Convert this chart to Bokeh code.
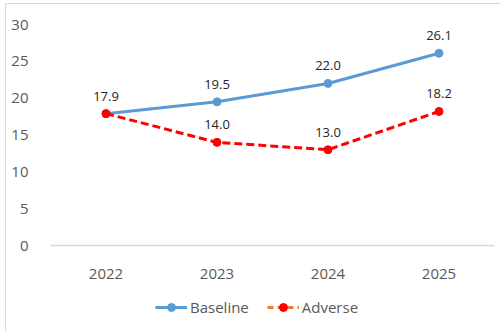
from bokeh.plotting import figure
from bokeh.layouts import column
from bokeh.models import ColumnDataSource, Legend, LegendItem, FixedTicker, LabelSet, Range1d
from bokeh.core.properties import value
from bokeh.embed import file_html
from bokeh.resources import INLINE

years = ["2022", "2023", "2024", "2025"]
baseline = [17.9, 19.5, 22.0, 26.1]
adverse = [17.9, 14.0, 13.0, 18.2]
y_ticks = [0, 5, 10, 15, 20, 25, 30]
series_names = ["Baseline", "Adverse"]

FONT = "Open Sans"
BLUE = "#5B9BD5"
RED = "#FF0000"
ORANGE = "#ED7D31"

fig = figure(x_range=years, y_range=Range1d(0, 30), width=494, height=290,
             output_backend="svg", toolbar_location=None,
             min_border_left=44, min_border_right=6, min_border_top=20, min_border_bottom=49)
fig.outline_line_color = None
fig.grid.visible = False

src_b = ColumnDataSource(dict(x=years, y=baseline, lab=[f"{v:.1f}" for v in baseline]))
src_a = ColumnDataSource(dict(x=years, y=adverse, lab=[f"{v:.1f}" for v in adverse]))

fig.line("x", "y", source=src_b, line_color=BLUE, line_width=3)
fig.scatter("x", "y", source=src_b, size=8, color=BLUE)
fig.line("x", "y", source=src_a, line_color=RED, line_width=3, line_dash="8 4")
fig.scatter("x", "y", source=src_a, size=8, color=RED)

lb = LabelSet(x="x", y="y", text="lab", source=src_b, y_offset=13, text_align="center",
              text_font=value(FONT), text_font_size="13px", text_color="#262626")
src_a2 = ColumnDataSource(dict(x=years[1:], y=adverse[1:], lab=[f"{v:.1f}" for v in adverse[1:]]))
la = LabelSet(x="x", y="y", text="lab", source=src_a2, y_offset=13, text_align="center",
              text_font=value(FONT), text_font_size="13px", text_color="#262626")
fig.add_layout(lb)
fig.add_layout(la)

fig.yaxis.ticker = FixedTicker(ticks=y_ticks)
fig.yaxis.axis_line_color = None
fig.yaxis.major_tick_line_color = None
fig.yaxis.minor_tick_line_color = None
fig.yaxis.major_label_text_font = FONT
fig.yaxis.major_label_text_font_size = "15px"
fig.yaxis.major_label_text_color = "#595959"
fig.yaxis.major_label_standoff = 16

fig.xaxis.axis_line_color = "#D9D9D9"
fig.xaxis.axis_line_width = 1.5
fig.xaxis.major_tick_line_color = None
fig.xaxis.minor_tick_line_color = None
fig.xaxis.major_label_text_font = FONT
fig.xaxis.major_label_text_font_size = "15px"
fig.xaxis.major_label_text_color = "#595959"
fig.xaxis.major_label_standoff = 17

# legend strip (Adverse legend entry shows an orange dashed line with a red marker)
leg = figure(x_range=years, y_range=Range1d(0, 1), width=494, height=37,
             output_backend="svg", toolbar_location=None,
             min_border=0)
leg.outline_line_color = None
leg.grid.visible = False
leg.axis.visible = False
dummy = ColumnDataSource(dict(x=[years[0]], y=[float("nan")]))
g_bl = leg.line("x", "y", source=dummy, line_color=BLUE, line_width=3)
g_bc = leg.scatter("x", "y", source=dummy, size=7, color=BLUE)
g_al = leg.line("x", "y", source=dummy, line_color=ORANGE, line_width=3, line_dash="6 4")
g_ac = leg.scatter("x", "y", source=dummy, size=7, color=RED)
legend = Legend(items=[LegendItem(label=series_names[0], renderers=[g_bl, g_bc]),
                       LegendItem(label=series_names[1], renderers=[g_al, g_ac])],
                orientation="horizontal", location=(105, 14),
                label_text_font=FONT, label_text_font_size="15px", label_text_color="#595959",
                border_line_color=None, background_fill_alpha=0,
                glyph_width=32, glyph_height=20, label_standoff=3, spacing=18, padding=0,
                margin=0)
leg.add_layout(legend)

p = column(fig, leg, spacing=0, margin=(4, 0, 0, 6), styles={"outline": "1px solid #D9D9D9"})

open("out.html", "w").write(file_html(p, INLINE))
